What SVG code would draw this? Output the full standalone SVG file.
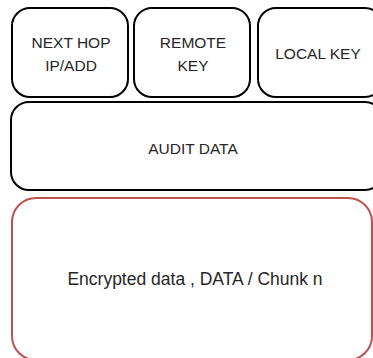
<svg xmlns="http://www.w3.org/2000/svg" width="373" height="358" viewBox="0 0 373 358">
<style>
.box{fill:#fff;stroke:#000;stroke-width:2}
.red{fill:#fff;stroke:#c0504d;stroke-width:2}
text{font-family:"Liberation Sans","Open Sans",sans-serif;font-size:15.5px;fill:#262626;text-anchor:middle}
</style>
<rect width="373" height="358" fill="#fff"/>
<g id="next-hop">
<rect class="box" x="12" y="8" width="116" height="89" rx="18"/>
<text x="71" y="48">NEXT HOP</text>
<text x="71" y="71">IP/ADD</text>
</g>
<g id="remote-key">
<rect class="box" x="134" y="8" width="116" height="89" rx="18"/>
<text x="193" y="48">REMOTE</text>
<text x="193" y="71">KEY</text>
</g>
<g id="local-key">
<rect class="box" x="258" y="8" width="125" height="89" rx="18"/>
<text x="318" y="59">LOCAL KEY</text>
</g>
<g id="audit-data">
<rect class="box" x="11" y="102" width="372" height="88" rx="18"/>
<text x="193" y="154">AUDIT DATA</text>
</g>
<g id="encrypted-data">
<rect class="red" x="12" y="198" width="360" height="162" rx="24"/>
<text x="195" y="285" style="font-size:17.5px">Encrypted data , DATA / Chunk n</text>
</g>
<g id="connectors"/>
</svg>
